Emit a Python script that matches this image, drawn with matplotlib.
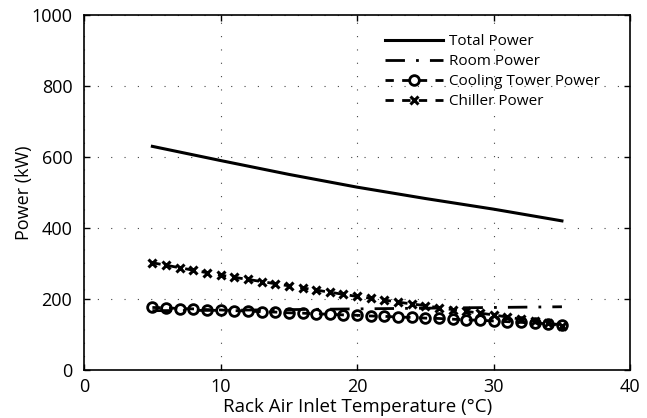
import numpy as np
import matplotlib.pyplot as plt

plt.rcParams['font.family'] = ['Open Sans', 'DejaVu Sans']

# data
temp_coarse = [5, 10, 15, 20, 25, 30, 35]
total_power = [630, 590, 551, 515, 483, 453, 420]
room_power = [167, 168, 170, 172, 174, 176, 178]

temp = list(range(5, 36))
tower_power = [176, 175, 173, 172, 170, 169, 167, 166, 164, 163, 161,
               160, 158, 157, 155, 154, 152, 151, 149, 148, 146,
               145, 143, 141, 140, 138, 136, 134, 132, 130, 128]
chiller_power = [302, 295, 288, 281, 274, 267, 261, 255, 249, 243, 237,
                 231, 225, 219, 213, 207, 202, 197, 191, 186, 181,
                 175, 170, 165, 160, 155, 149, 143, 137, 131, 124]

xticks = [0, 10, 20, 30, 40]
yticks = [0, 200, 400, 600, 800, 1000]

fig = plt.figure(figsize=(6.47, 4.18), dpi=100)
ax = fig.add_axes([0.130, 0.115, 0.844, 0.849])

ax.plot(temp_coarse, total_power, 'k-', lw=2.2, label='Total Power')
ax.plot(temp_coarse, room_power, 'k', lw=2, dashes=(7, 4, 1, 4), label='Room Power')
ax.plot(temp, tower_power, 'k', lw=2, dashes=(3, 3), marker='o', ms=7,
        mfc='none', mec='k', mew=2, label='Cooling Tower Power')
ax.plot(temp, chiller_power, 'k', lw=2, dashes=(3, 3), marker='x', ms=6,
        mew=2.2, label='Chiller Power')

ax.set_xlim(0, 40)
ax.set_ylim(0, 1000)
ax.set_xticks(xticks)
ax.set_yticks(yticks)
ax.tick_params(direction='in', top=True, right=True, length=4, width=1,
               labelsize=13)
ax.tick_params(axis='y', pad=8.5)
ax.tick_params(axis='x', pad=6)
ax.grid(True, color='#444444', linestyle=(0, (1, 11)), lw=0.8)
for s in ax.spines.values():
    s.set_linewidth(1.2)

ax.set_xlabel('Rack Air Inlet Temperature (°C)', fontsize=13.5, labelpad=1)
ax.set_ylabel('Power (kW)', fontsize=13, labelpad=-1)

leg = ax.legend(loc='upper left', bbox_to_anchor=(0.525, 0.985), frameon=False,
                fontsize=11, handlelength=3.8, handletextpad=0.45,
                labelspacing=0.33, numpoints=1)

fig.savefig('out.png', dpi=100)
